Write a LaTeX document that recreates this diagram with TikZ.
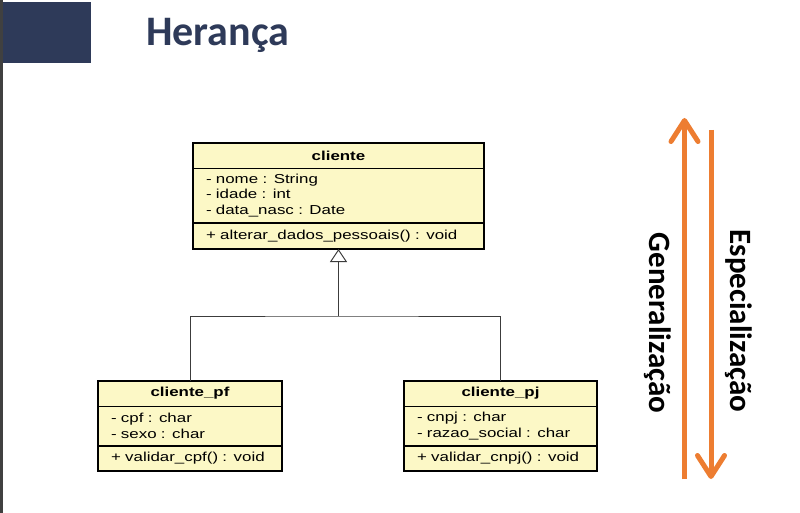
\documentclass[tikz,border=0pt]{standalone}
\usepackage{fontspec}
\setmainfont{Carlito}
\newfontfamily\umlfont[FakeStretch=1.3]{Liberation Sans}
\usepackage{xcolor}
\usetikzlibrary{positioning,arrows.meta}

\definecolor{navy}{HTML}{2E3A59}
\definecolor{umlfill}{RGB}{252,248,198}
\definecolor{arroworange}{HTML}{ED7D31}
\definecolor{edgegray}{HTML}{3C3C3C}
\definecolor{stripgray}{HTML}{404040}

\tikzset{
 umlhead/.style={draw, fill=umlfill, text width=#1, align=center, minimum height=25pt, inner xsep=13pt, inner ysep=0pt, font=\umlfont\fontsize{13}{15.5}\selectfont\bfseries},
 umlbody/.style={draw, fill=umlfill, text width=#1, align=left, inner xsep=13pt, inner ysep=0pt, font=\umlfont\fontsize{13}{15.5}\selectfont},
 umlframe/.style={draw, line width=1.8pt},
 genarrow/.style={draw=arroworange, line width=5pt, -{Straight Barb[length=21pt,width=27pt,round]}},
 sidelabel/.style={rotate=-90, inner sep=0pt, font=\bfseries\fontsize{31}{36}\selectfont},
}

\begin{document}
\begin{tikzpicture}[x=1pt,y=-1pt, node distance=0pt]
\useasboundingbox (0,0) rectangle (800,513);
\fill[white] (0,0) rectangle (800,513);
\fill[stripgray] (0,0) rectangle (3,513);
\fill[navy] (3,2) rectangle (91,63);
\node[anchor=base west, inner sep=0pt, text=navy, font=\bfseries\fontsize{42}{48}\selectfont] (title) at (146,46) {Herança};

% superclass
\node[umlhead=265pt] (cliente-head) at (338.5,155.5) {cliente};
\node[umlbody=265pt, minimum height=54pt, below=of cliente-head] (cliente-attr) {- nome : String\\- idade : int\\- data\_nasc : Date};
\node[umlbody=265pt, minimum height=26pt, below=of cliente-attr] (cliente-ops) {+ alterar\_dados\_pessoais() : void};
\draw[umlframe] (cliente-head.north west) rectangle (cliente-ops.south east);

% subclasses
\node[umlhead=158pt] (pf-head) at (190,393.5) {cliente\_pf};
\node[umlbody=158pt, minimum height=39pt, below=of pf-head] (pf-attr) {- cpf : char\\- sexo : char};
\node[umlbody=158pt, minimum height=25pt, below=of pf-attr] (pf-ops) {+ validar\_cpf() : void};
\draw[umlframe] (pf-head.north west) rectangle (pf-ops.south east);

\node[umlhead=167pt] (pj-head) at (500.5,393.5) {cliente\_pj};
\node[umlbody=167pt, minimum height=39pt, below=of pj-head] (pj-attr) {- cnpj : char\\- razao\_social : char};
\node[umlbody=167pt, minimum height=25pt, below=of pj-attr] (pj-ops) {+ validar\_cnpj() : void};
\draw[umlframe] (pj-head.north west) rectangle (pj-ops.south east);

% inheritance
\coordinate (bar) at (cliente-ops.south |- 0,316);
\draw[edgegray, line width=1pt] (pf-head.north) |- (bar) -| (pj-head.north);
\draw[edgegray, line width=1pt, -{Triangle[open, length=13pt, width=17pt]}] (bar) -- (cliente-ops.south);

% generalization / specialization
\coordinate (gen-bot) at (684.5,479);
\coordinate (gen-top) at (684.5,118);
\coordinate (spec-top) at (711,130);
\coordinate (spec-bot) at (711,479);
\draw[genarrow] (gen-bot) -- (gen-top);
\draw[genarrow] (spec-top) -- (spec-bot);
\node[sidelabel] (gen-label) at (658,323) {Generalização};
\node[sidelabel] (spec-label) at (739,321) {Especialização};
\end{tikzpicture}
\end{document}
